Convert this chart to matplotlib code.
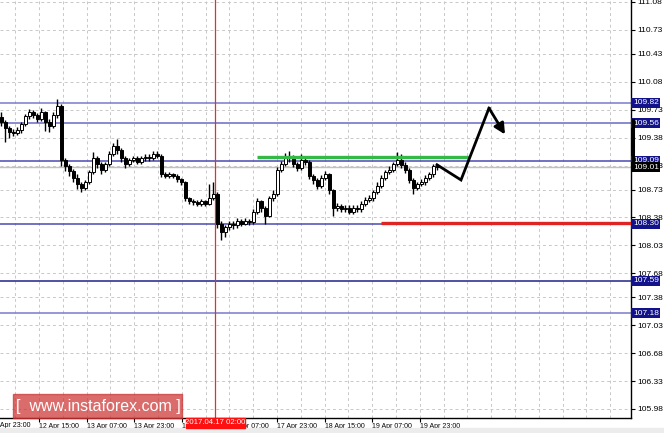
import numpy as np
import matplotlib
matplotlib.use("Agg")
import matplotlib.pyplot as plt
from matplotlib.patches import Rectangle
from matplotlib.lines import Line2D
import matplotlib.transforms as mtransforms

plt.rcParams["font.family"] = ["Liberation Sans", "DejaVu Sans"]

# USD/JPY H1 candles (one per bar index)
opens = [109.64, 109.58, 109.50, 109.45, 109.44, 109.47, 109.55, 109.65, 109.70, 109.66,
         109.62, 109.70, 109.58, 109.52, 109.66, 109.78, 109.10, 109.02, 108.96, 108.88,
         108.80, 108.75, 108.82, 108.95, 109.12, 109.05, 108.98, 109.05, 109.18, 109.28,
         109.22, 109.12, 109.05, 109.10, 109.12, 109.08, 109.12, 109.14, 109.12, 109.18,
         109.15, 108.92, 108.90, 108.92, 108.90, 108.86, 108.82, 108.62, 108.58, 108.57,
         108.55, 108.58, 108.55, 108.63, 108.68, 108.30, 108.20, 108.26, 108.30, 108.28,
         108.33, 108.30, 108.34, 108.32, 108.45, 108.58, 108.50, 108.40, 108.62, 108.68,
         108.98, 109.05, 109.12, 109.14, 109.05, 109.00, 109.10, 109.08, 108.90, 108.85,
         108.78, 108.88, 108.92, 108.72, 108.50, 108.52, 108.48, 108.50, 108.45, 108.50,
         108.48, 108.55, 108.60, 108.62, 108.70, 108.78, 108.88, 108.95, 108.98, 109.05,
         109.10, 109.04, 108.98, 108.85, 108.75, 108.80, 108.82, 108.88, 108.92, 109.02]
closes = [109.58, 109.50, 109.45, 109.44, 109.47, 109.55, 109.65, 109.70, 109.66, 109.62,
          109.70, 109.58, 109.52, 109.66, 109.78, 109.10, 109.02, 108.96, 108.88, 108.80,
          108.75, 108.82, 108.95, 109.12, 109.05, 108.98, 109.05, 109.18, 109.28, 109.22,
          109.12, 109.05, 109.10, 109.12, 109.08, 109.12, 109.14, 109.12, 109.18, 109.15,
          108.92, 108.90, 108.92, 108.90, 108.86, 108.82, 108.62, 108.58, 108.57, 108.55,
          108.58, 108.55, 108.63, 108.68, 108.30, 108.20, 108.26, 108.30, 108.28, 108.33,
          108.30, 108.34, 108.32, 108.45, 108.58, 108.50, 108.40, 108.62, 108.68, 108.98,
          109.05, 109.12, 109.14, 109.05, 109.00, 109.10, 109.08, 108.90, 108.85, 108.78,
          108.88, 108.92, 108.72, 108.50, 108.52, 108.48, 108.50, 108.45, 108.50, 108.48,
          108.55, 108.60, 108.62, 108.70, 108.78, 108.88, 108.95, 108.98, 109.05, 109.10,
          109.04, 108.98, 108.85, 108.75, 108.80, 108.82, 108.88, 108.92, 109.02, 109.01]
highs = [109.70, 109.60, 109.53, 109.49, 109.51, 109.58, 109.68, 109.74, 109.73, 109.69,
         109.75, 109.72, 109.61, 109.70, 109.87, 109.80, 109.13, 109.05, 108.99, 108.92,
         108.83, 108.85, 108.98, 109.20, 109.15, 109.08, 109.08, 109.21, 109.31, 109.36,
         109.25, 109.15, 109.13, 109.15, 109.15, 109.15, 109.17, 109.17, 109.21, 109.21,
         109.17, 108.95, 108.95, 108.94, 108.92, 108.88, 108.84, 108.64, 108.61, 108.60,
         108.61, 108.60, 108.80, 108.82, 108.70, 108.33, 108.29, 108.34, 108.33, 108.37,
         108.36, 108.37, 108.36, 108.48, 108.63, 108.60, 108.52, 108.65, 108.72, 109.01,
         109.09, 109.19, 109.21, 109.16, 109.08, 109.18, 109.14, 109.10, 108.93, 108.88,
         108.91, 108.96, 108.94, 108.74, 108.56, 108.55, 108.53, 108.53, 108.53, 108.53,
         108.58, 108.64, 108.66, 108.73, 108.82, 108.91, 108.98, 109.02, 109.08, 109.20,
         109.18, 109.07, 109.00, 108.88, 108.83, 108.86, 108.91, 108.95, 109.05, 109.05]
lows = [109.52, 109.33, 109.38, 109.40, 109.41, 109.44, 109.52, 109.62, 109.63, 109.58,
        109.59, 109.46, 109.45, 109.50, 109.63, 109.02, 108.96, 108.90, 108.83, 108.74,
        108.70, 108.72, 108.80, 108.92, 109.00, 108.93, 108.95, 109.02, 109.15, 109.18,
        109.08, 109.00, 109.02, 109.07, 109.05, 109.05, 109.09, 109.09, 109.10, 109.12,
        108.89, 108.87, 108.87, 108.87, 108.83, 108.79, 108.58, 108.55, 108.54, 108.52,
        108.52, 108.52, 108.53, 108.60, 108.25, 108.10, 108.14, 108.22, 108.24, 108.25,
        108.27, 108.28, 108.29, 108.30, 108.42, 108.45, 108.30, 108.38, 108.58, 108.65,
        108.95, 109.02, 109.08, 109.01, 108.96, 108.98, 109.04, 108.86, 108.80, 108.74,
        108.75, 108.85, 108.68, 108.40, 108.46, 108.45, 108.45, 108.42, 108.42, 108.45,
        108.45, 108.52, 108.57, 108.59, 108.67, 108.75, 108.85, 108.92, 108.95, 109.02,
        109.00, 108.94, 108.81, 108.68, 108.72, 108.77, 108.79, 108.85, 108.89, 108.98]

level_prices = [109.82, 109.56, 109.09, 108.30, 107.59, 107.18]
level_colors = ["#7a7acc", "#6a6ac4", "#4a4ab0", "#4a4ab0", "#22228c", "#7a7acc"]
bid_price = 109.01

ytick_vals = [111.08, 110.73, 110.43, 110.08, 109.73, 109.38, 109.03, 108.73,
              108.38, 108.03, 107.68, 107.38, 107.03, 106.68, 106.33, 105.98]
ytick_labels = ["111.08", "110.73", "110.43", "110.08", "109.73", "109.38", "109.03", "108.73",
                "108.38", "108.03", "107.68", "107.38", "107.03", "106.68", "106.33", "105.98"]

xtick_pos = [-2.4, 9.5, 21.4, 33.3, 45.2, 57.1, 69.0, 80.9, 92.8, 104.7]
xtick_labels = ["11 Apr 23:00", "12 Apr 15:00", "13 Apr 07:00", "13 Apr 23:00", "14 Apr 15:00",
                "17 Apr 07:00", "17 Apr 23:00", "18 Apr 15:00", "19 Apr 07:00", "19 Apr 23:00"]

# forecast drawings
resist_x = [64, 117]
resist_y = 109.14
support_x = [95, 158]
support_y = 108.31
path_x = [109, 115, 122]
path_y = [109.04, 108.85, 109.75]
arrow_end = (126, 109.42)
vline_x = 53.5

W, H = 664, 433
fig = plt.figure(figsize=(W / 100, H / 100), dpi=100)
fig.patch.set_facecolor("white")
ax = fig.add_axes([0, 1 - 418 / H, 631 / W, 418 / H])
ax.set_xlim(-0.25, 157.5)
ax.set_ylim(105.867, 111.105)

# grid
grid_kw = dict(color="#c8c8c8", lw=0.7, ls=(0, (3, 3)), zorder=0)
for y in ytick_vals:
    ax.axhline(y, **grid_kw)
for x in np.arange(xtick_pos[0], 158, (xtick_pos[1] - xtick_pos[0]) / 2):
    ax.axvline(x, **grid_kw)

# support / resistance levels
for p, c in zip(level_prices, level_colors):
    ax.axhline(p, color=c, lw=1.1, zorder=1)
ax.axhline(bid_price, color="#c0c0c0", lw=1.0, zorder=1)
ax.axvline(vline_x, color="#e03030", lw=0.9, zorder=1)

# candles
idx = np.arange(len(closes))
ax.vlines(idx, lows, highs, color="black", lw=1.0, zorder=3)
body_low = [min(o, c) for o, c in zip(opens, closes)]
body_h = [max(abs(c - o), 0.01) for o, c in zip(opens, closes)]
body_fc = ["white" if c >= o else "black" for o, c in zip(opens, closes)]
ax.bar(idx, body_h, bottom=body_low, width=0.75, color=body_fc,
       edgecolor="black", lw=0.7, zorder=4)

# drawings
ax.plot(resist_x, [resist_y, resist_y], color="#35b845", lw=2.4, zorder=5,
        solid_capstyle="butt")
ax.plot(support_x, [support_y, support_y], color="#e02424", lw=2.4, zorder=5,
        solid_capstyle="butt")
ax.plot(path_x, path_y, color="black", lw=2, zorder=6, solid_joinstyle="miter")
ax.annotate("", xy=arrow_end, xytext=(path_x[-1], path_y[-1]),
            arrowprops=dict(arrowstyle="-|>", color="black", lw=2,
                            mutation_scale=16, shrinkA=0, shrinkB=0), zorder=6)

# axes styling
for s in ["top", "left"]:
    ax.spines[s].set_visible(False)
ax.spines["right"].set_color("black")
ax.spines["bottom"].set_color("black")
ax.spines["right"].set_linewidth(1)
ax.spines["bottom"].set_linewidth(1)

ax.yaxis.tick_right()
ax.set_yticks(ytick_vals)
ax.set_yticklabels(ytick_labels)
ax.tick_params(axis="y", labelsize=6, length=3, pad=1.5, colors="black")

ax.set_xticks([p for p in xtick_pos if p > 0])
ax.set_xticklabels([l for p, l in zip(xtick_pos, xtick_labels) if p > 0])
ax.tick_params(axis="x", labelsize=5, length=3, pad=0.5)
for lab in ax.get_xticklabels():
    lab.set_ha("left")
trans = mtransforms.blended_transform_factory(ax.transData, ax.transAxes)
ax.text(xtick_pos[0], -0.0085, xtick_labels[0], transform=trans, fontsize=5,
        ha="left", va="top", clip_on=False)

# price tags on the right scale
ytrans = mtransforms.blended_transform_factory(ax.transAxes, ax.transData)
for p in level_prices:
    ax.text(1.003, p, "%.2f" % p, transform=ytrans, fontsize=6, color="white",
            ha="left", va="center", zorder=10, clip_on=False,
            bbox=dict(boxstyle="square,pad=0.18", fc="#12128a", ec="none"))
ax.text(1.003, bid_price, "%.2f" % bid_price, transform=ytrans, fontsize=6,
        color="white", ha="left", va="center", zorder=11, clip_on=False,
        bbox=dict(boxstyle="square,pad=0.18", fc="black", ec="none"))
fig.add_artist(Line2D([632.5 / W, 632.5 / W], [1 - 120 / H, 1 - 167 / H],
                      color="black", lw=2.2))

# date tag of the vertical line
fig.add_artist(Rectangle((186 / W, 1 - 428 / H), 59 / W, 10 / H,
                         color="#ff1010", zorder=10))
fig.text(215.5 / W, 1 - 423 / H, "2017.04.17 02:00", color="white", fontsize=5.6,
         ha="center", va="center", zorder=11)

# bottom strip
fig.add_artist(Rectangle((0, 0), 1, 5 / H, color="#ececec", zorder=1))

# watermark
fig.add_artist(Rectangle((13 / W, 1 - 418 / H), 169 / W, 24 / H,
                         color="#cc3333", alpha=0.72, zorder=12))
fig.text(98 / W, 1 - 406.5 / H, "[  www.instaforex.com ]", color="white",
         fontsize=11.5, ha="center", va="center", zorder=13)

fig.savefig("out.png", dpi=100)
